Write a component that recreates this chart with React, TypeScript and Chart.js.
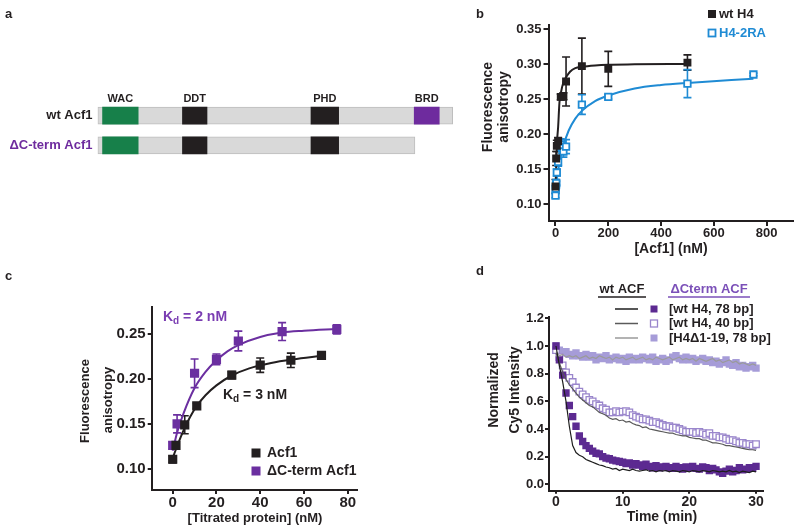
import React, { useEffect, useRef } from 'react';
import { Chart, registerables } from 'chart.js';
Chart.register(...registerables);

const FONT = "'Liberation Sans', Arial, Helvetica, sans-serif";
const INK = '#231f20';

// ---------------- Panel a : domain map ----------------
const aRows = ['wt Acf1', 'ΔC-term Acf1'];
const aRowColors = [INK, '#6e2b9e'];
const aLength = [1476, 1319];
const aDomainNames = ['WAC', 'DDT', 'PHD', 'BRD'];
const aDomainStart = [21, 353, 887, 1316];
const aDomainEnd = [169, 455, 1002, 1420];
const aDomainKept = [true, true, true, false];
const aDomainColors = ['#17804a', INK, INK, '#6e2b9e'];

// ---------------- Panel b ----------------
const bWtX = [0, 2.5, 5, 10, 20, 30, 40, 100, 200, 500];
const bWtY = [0.125, 0.165, 0.183, 0.19, 0.253, 0.254, 0.275, 0.297, 0.293, 0.302];
const bWtErr = [0.01, 0.01, 0.008, 0.005, 0.004, 0.005, 0.035, 0.04, 0.025, 0.011];
const bRaX = [0, 1, 2, 3, 5, 10, 20, 25, 30, 40, 100, 200, 500, 750];
const bRaY = [0.112, 0.122, 0.127, 0.13, 0.145, 0.16, 0.185, 0.18, 0.175, 0.182, 0.242, 0.253, 0.272, 0.285];
const bRaErr = [0.003, 0.004, 0.004, 0.003, 0.005, 0.006, 0.008, 0.008, 0.008, 0.01, 0.014, 0.003, 0.02, 0.002];
const bWtFitX = [0, 3, 6, 10, 15, 20, 30, 40, 55, 75, 100, 150, 200, 300, 500];
const bWtFitY = [0.12, 0.16, 0.19, 0.21, 0.245, 0.258, 0.274, 0.281, 0.289, 0.294, 0.296, 0.298, 0.299, 0.2995, 0.30];
const bRaFitX = [0, 5, 10, 20, 30, 50, 75, 100, 150, 200, 300, 400, 500, 750];
const bRaFitY = [0.118, 0.135, 0.148, 0.168, 0.183, 0.205, 0.222, 0.233, 0.247, 0.255, 0.265, 0.27, 0.273, 0.279];
const bXTicks = [0, 200, 400, 600, 800];
const bYTicks = [0.1, 0.15, 0.2, 0.25, 0.3, 0.35];

// ---------------- Panel c ----------------
const cAcfX = [0, 1.5, 5.5, 11, 27, 40, 54, 68];
const cAcfY = [0.1105, 0.126, 0.149, 0.17, 0.2045, 0.2155, 0.221, 0.2265];
const cAcfErr = [0.004, 0.004, 0.01, 0.003, 0.004, 0.008, 0.008, 0.002];
const cDcX = [0, 2, 10, 20, 30, 50, 75];
const cDcY = [0.126, 0.15, 0.2065, 0.222, 0.2425, 0.253, 0.2555];
const cDcErr = [0.004, 0.01, 0.016, 0.006, 0.011, 0.01, 0.005];
const cAcfFitX = [0, 2, 5, 8, 11, 15, 20, 27, 35, 45, 55, 68];
const cAcfFitY = [0.112, 0.125, 0.143, 0.158, 0.17, 0.182, 0.193, 0.204, 0.212, 0.218, 0.222, 0.226];
const cDcFitX = [0, 2, 5, 10, 15, 20, 25, 30, 40, 50, 60, 75];
const cDcFitY = [0.12, 0.14, 0.162, 0.19, 0.208, 0.221, 0.231, 0.238, 0.247, 0.252, 0.254, 0.256];
const cXTicks = [0, 20, 40, 60, 80];
const cYTicks = [0.1, 0.15, 0.2, 0.25];

// ---------------- Panel d ----------------
const dTime = [0, 0.5, 1, 1.5, 2, 2.5, 3, 3.5, 4, 4.5, 5, 5.5, 6, 6.5, 7, 7.5, 8, 8.5, 9, 9.5, 10, 10.5, 11, 11.5, 12, 12.5, 13, 13.5, 14, 14.5, 15, 15.5, 16, 16.5, 17, 17.5, 18, 18.5, 19, 19.5, 20, 20.5, 21, 21.5, 22, 22.5, 23, 23.5, 24, 24.5, 25, 25.5, 26, 26.5, 27, 27.5, 28, 28.5, 29, 29.5, 30];
const dWt78 = [1.0, 0.86, 0.74, 0.6, 0.42, 0.28, 0.23, 0.21, 0.2, 0.18, 0.17, 0.16, 0.15, 0.14, 0.135, 0.125, 0.12, 0.11, 0.115, 0.1, 0.11, 0.105, 0.1, 0.11, 0.1, 0.095, 0.1, 0.105, 0.095, 0.1, 0.09, 0.1, 0.095, 0.1, 0.09, 0.1, 0.095, 0.09, 0.1, 0.095, 0.09, 0.1, 0.095, 0.09, 0.1, 0.095, 0.09, 0.1, 0.095, 0.09, 0.095, 0.09, 0.1, 0.09, 0.095, 0.085, 0.095, 0.09, 0.085, 0.095, 0.09];
const dWt40 = [0.95, 0.88, 0.81, 0.76, 0.72, 0.69, 0.66, 0.63, 0.61, 0.59, 0.57, 0.56, 0.54, 0.52, 0.51, 0.5, 0.48, 0.47, 0.475, 0.46, 0.465, 0.45, 0.455, 0.44, 0.43, 0.425, 0.41, 0.415, 0.4, 0.395, 0.39, 0.385, 0.38, 0.375, 0.37, 0.37, 0.36, 0.355, 0.35, 0.35, 0.34, 0.335, 0.33, 0.33, 0.32, 0.32, 0.31, 0.3, 0.3, 0.295, 0.29, 0.28, 0.28, 0.275, 0.27, 0.265, 0.26, 0.255, 0.25, 0.25, 0.245];
const dWtDel = [0.96, 0.93, 0.94, 0.92, 0.93, 0.92, 0.93, 0.91, 0.92, 0.93, 0.91, 0.92, 0.91, 0.93, 0.92, 0.91, 0.92, 0.9, 0.92, 0.91, 0.92, 0.9, 0.91, 0.92, 0.9, 0.91, 0.92, 0.9, 0.91, 0.9, 0.92, 0.91, 0.9, 0.91, 0.92, 0.9, 0.91, 0.92, 0.9, 0.91, 0.9, 0.91, 0.89, 0.91, 0.9, 0.89, 0.9, 0.91, 0.89, 0.9, 0.88, 0.89, 0.9, 0.88, 0.89, 0.87, 0.88, 0.87, 0.86, 0.87, 0.86];
const dDc78 = [1.0, 0.9, 0.79, 0.66, 0.57, 0.49, 0.42, 0.35, 0.31, 0.28, 0.26, 0.24, 0.225, 0.22, 0.2, 0.19, 0.185, 0.175, 0.17, 0.165, 0.16, 0.15, 0.155, 0.14, 0.15, 0.14, 0.13, 0.145, 0.13, 0.12, 0.135, 0.12, 0.125, 0.13, 0.12, 0.115, 0.13, 0.12, 0.11, 0.125, 0.12, 0.13, 0.115, 0.11, 0.125, 0.12, 0.1, 0.115, 0.105, 0.09, 0.08, 0.095, 0.11, 0.09, 0.1, 0.12, 0.105, 0.11, 0.12, 0.115, 0.13];
const dDc40 = [0.97, 0.92, 0.86, 0.81, 0.77, 0.74, 0.7, 0.67, 0.65, 0.63, 0.61, 0.6, 0.58, 0.57, 0.55, 0.54, 0.52, 0.52, 0.53, 0.52, 0.525, 0.53, 0.52, 0.5, 0.49, 0.48, 0.47, 0.47, 0.46, 0.45, 0.45, 0.44, 0.43, 0.42, 0.42, 0.41, 0.41, 0.4, 0.39, 0.38, 0.38, 0.38, 0.37, 0.38, 0.37, 0.36, 0.37, 0.35, 0.35, 0.34, 0.34, 0.33, 0.32, 0.32, 0.31, 0.3, 0.3, 0.29, 0.29, 0.28, 0.29];
const dDcDel = [1.0, 0.97, 0.95, 0.96, 0.94, 0.93, 0.95, 0.93, 0.92, 0.94, 0.92, 0.93, 0.9, 0.92, 0.91, 0.93, 0.9, 0.91, 0.92, 0.9, 0.91, 0.89, 0.92, 0.9, 0.91, 0.9, 0.92, 0.91, 0.9, 0.92, 0.89, 0.9, 0.91, 0.89, 0.9, 0.92, 0.93, 0.91, 0.9, 0.92, 0.9, 0.91, 0.89, 0.9, 0.91, 0.89, 0.9, 0.88, 0.89, 0.87, 0.88, 0.9, 0.87, 0.86, 0.88, 0.85, 0.86, 0.84, 0.85, 0.86, 0.84];
const dXTicks = [0, 10, 20, 30];
const dYTicks = [0, 0.2, 0.4, 0.6, 0.8, 1.0, 1.2];

// ---------------- helpers ----------------
const pts = (xs: number[], ys: number[]) => xs.map((x, i) => ({ x, y: ys[i] }));
const bold = (size: number) => `bold ${size}px ${FONT}`;

type Item =
  | { kind: 'text'; x: number; y: number; text: string; font: string; color: string; align?: CanvasTextAlign; rot?: boolean }
  | { kind: 'runs'; x: number; y: number; runs: { text: string; sub?: boolean }[]; font: string; subFont: string; color: string }
  | { kind: 'rect'; x: number; y: number; size: number; fill?: string; stroke?: string; lw?: number }
  | { kind: 'line'; x1: number; y1: number; x2: number; y2: number; color: string; lw: number };

function overlay(ox: number, oy: number, items: Item[]) {
  return {
    id: 'overlay',
    afterDraw(chart: any) {
      const ctx: CanvasRenderingContext2D = chart.ctx;
      ctx.save();
      ctx.textBaseline = 'middle';
      for (const it of items) {
        if (it.kind === 'text') {
          ctx.font = it.font;
          ctx.fillStyle = it.color;
          ctx.textAlign = it.align ?? 'left';
          if (it.rot) {
            ctx.save();
            ctx.translate(it.x - ox, it.y - oy);
            ctx.rotate(-Math.PI / 2);
            ctx.fillText(it.text, 0, 0);
            ctx.restore();
          } else ctx.fillText(it.text, it.x - ox, it.y - oy);
        } else if (it.kind === 'runs') {
          ctx.textAlign = 'left';
          ctx.fillStyle = it.color;
          let x = it.x - ox;
          for (const r of it.runs) {
            ctx.font = r.sub ? it.subFont : it.font;
            ctx.fillText(r.text, x, it.y - oy + (r.sub ? 4 : 0));
            x += ctx.measureText(r.text).width;
          }
        } else if (it.kind === 'rect') {
          const h = it.size / 2;
          if (it.fill) {
            ctx.fillStyle = it.fill;
            ctx.fillRect(it.x - ox - h, it.y - oy - h, it.size, it.size);
          }
          if (it.stroke) {
            ctx.strokeStyle = it.stroke;
            ctx.lineWidth = it.lw ?? 1.5;
            ctx.strokeRect(it.x - ox - h, it.y - oy - h, it.size, it.size);
          }
        } else {
          ctx.strokeStyle = it.color;
          ctx.lineWidth = it.lw;
          ctx.beginPath();
          ctx.moveTo(it.x1 - ox, it.y1 - oy);
          ctx.lineTo(it.x2 - ox, it.y2 - oy);
          ctx.stroke();
        }
      }
      ctx.restore();
    },
  };
}

const errorBars = {
  id: 'errorBars',
  beforeDatasetsDraw(chart: any) {
    const ctx: CanvasRenderingContext2D = chart.ctx;
    const ys = chart.scales.y;
    chart.data.datasets.forEach((ds: any, i: number) => {
      if (!ds.errs) return;
      const meta = chart.getDatasetMeta(i);
      ctx.save();
      ctx.strokeStyle = ds.errColor;
      ctx.lineWidth = 1.6;
      meta.data.forEach((el: any, j: number) => {
        const v = ds.data[j].y;
        const e = ds.errs[j];
        if (!e) return;
        const x = el.x;
        const yt = ys.getPixelForValue(v + e);
        const yb = ys.getPixelForValue(v - e);
        ctx.beginPath();
        ctx.moveTo(x, yt);
        ctx.lineTo(x, yb);
        ctx.moveTo(x - 4, yt);
        ctx.lineTo(x + 4, yt);
        ctx.moveTo(x - 4, yb);
        ctx.lineTo(x + 4, yb);
        ctx.stroke();
      });
      ctx.restore();
    });
  },
};

function axis(min: number, max: number, ticks: number[], dec: number, size: number, tickLen: number, pad: number, fit: (s: any) => void) {
  return {
    type: 'linear' as const,
    min,
    max,
    afterBuildTicks: (s: any) => {
      s.ticks = ticks.map((v) => ({ value: v }));
    },
    afterFit: fit,
    ticks: {
      autoSkip: false,
      maxRotation: 0,
      minRotation: 0,
      padding: pad,
      color: INK,
      font: { family: FONT, weight: 'bold' as const, size },
      callback: (v: any) => Number(v).toFixed(dec),
    },
    grid: { drawOnChartArea: false, drawTicks: true, tickLength: tickLen, color: INK, lineWidth: 2 },
    border: { display: true, color: INK, width: 2 },
  };
}

const baseOpts = {
  responsive: false,
  animation: false as const,
  events: [] as any[],
  plugins: { legend: { display: false }, tooltip: { enabled: false } },
};

// ---------------- panel builders ----------------
function makeA(canvas: HTMLCanvasElement) {
  const datasets: any[] = aDomainNames.map((name, k) => ({
    label: name,
    data: aRows.map((_, r) => (r === 0 || aDomainKept[k] ? [aDomainStart[k], aDomainEnd[k]] : null)),
    backgroundColor: aDomainColors[k],
    borderWidth: 0,
    barThickness: 17,
    grouped: false,
    order: 0,
  }));
  datasets.push({
    label: 'backbone',
    data: aRows.map((_, r) => [1, aLength[r]]),
    backgroundColor: '#d9d9d9',
    borderColor: '#bdbdbd',
    borderWidth: 1,
    borderSkipped: false,
    barThickness: 17,
    grouped: false,
    order: 1,
  });
  const domainLabels = {
    id: 'domainLabels',
    afterDatasetsDraw(chart: any) {
      const ctx: CanvasRenderingContext2D = chart.ctx;
      ctx.save();
      ctx.font = bold(11);
      ctx.fillStyle = INK;
      ctx.textAlign = 'center';
      ctx.textBaseline = 'middle';
      chart.data.datasets.forEach((ds: any, i: number) => {
        if (ds.label === 'backbone') return;
        const el: any = chart.getDatasetMeta(i).data[0];
        ctx.fillText(ds.label, (el.x + el.base) / 2, el.y - el.height / 2 - 8);
      });
      ctx.restore();
    },
  };
  return new Chart(canvas, {
    type: 'bar',
    data: { labels: aRows, datasets },
    options: {
      ...baseOpts,
      indexAxis: 'y',
      layout: { padding: { left: 0, right: 11.5, top: 100.9, bottom: 19.9 } },
      scales: {
        x: { type: 'linear', min: 0, max: 1500, display: false },
        y: {
          type: 'category',
          afterFit: (s: any) => {
            s.width = 97.5;
          },
          grid: { display: false, drawTicks: false },
          border: { display: false },
          ticks: {
            padding: 5,
            font: { family: FONT, weight: 'bold', size: 13 },
            color: (c: any) => aRowColors[c.index] ?? INK,
          },
        },
      },
    } as any,
    plugins: [domainLabels, overlay(0, 0, [{ kind: 'text', x: 5, y: 14, text: 'a', font: bold(13), color: INK }])],
  });
}

function makeB(canvas: HTMLCanvasElement) {
  const BLUE = '#1f8bd4';
  const ox = 470, oy = 0;
  return new Chart(canvas, {
    type: 'scatter',
    data: {
      datasets: [
        { label: 'wt H4', data: pts(bWtX, bWtY), errs: bWtErr, errColor: INK, pointStyle: 'rect', pointRadius: 5.6, backgroundColor: INK, borderColor: INK, borderWidth: 0 },
        { label: 'H4-2RA', data: pts(bRaX, bRaY), errs: bRaErr, errColor: BLUE, pointStyle: 'rect', pointRadius: 4.6, backgroundColor: '#fff', borderColor: BLUE, borderWidth: 1.8 },
        { label: 'wt fit', data: pts(bWtFitX, bWtFitY), showLine: true, pointRadius: 0, borderColor: INK, borderWidth: 2, cubicInterpolationMode: 'monotone' },
        { label: '2RA fit', data: pts(bRaFitX, bRaFitY), showLine: true, pointRadius: 0, borderColor: BLUE, borderWidth: 2, cubicInterpolationMode: 'monotone' },
      ] as any,
    },
    options: {
      ...baseOpts,
      layout: { padding: { left: 0, right: 7, top: 25, bottom: 0 } },
      scales: {
        x: axis(-26.5, 900, bXTicks, 0, 13, 5, 0, (s) => { s.height = 44; }),
        y: axis(0.0757, 0.3557, bYTicks, 2, 13, 5, 2, (s) => { s.width = 78.5; }),
      },
    } as any,
    plugins: [
      errorBars,
      overlay(ox, oy, [
        { kind: 'text', x: 476, y: 14, text: 'b', font: bold(13), color: INK },
        { kind: 'rect', x: 712, y: 14, size: 8, fill: INK },
        { kind: 'text', x: 719, y: 14, text: 'wt H4', font: bold(13), color: INK },
        { kind: 'rect', x: 712, y: 33, size: 7, fill: '#fff', stroke: BLUE, lw: 1.8 },
        { kind: 'text', x: 719, y: 33, text: 'H4-2RA', font: bold(13), color: BLUE },
        { kind: 'text', x: 488, y: 107, text: 'Fluorescence', font: bold(14), color: INK, align: 'center', rot: true },
        { kind: 'text', x: 504, y: 107, text: 'anisotropy', font: bold(14), color: INK, align: 'center', rot: true },
        { kind: 'text', x: 671, y: 249, text: '[Acf1] (nM)', font: bold(14), color: INK, align: 'center' },
      ]),
    ],
  });
}

function makeC(canvas: HTMLCanvasElement) {
  const PURPLE = '#6b2fa0';
  const ox = 0, oy = 265;
  return new Chart(canvas, {
    type: 'scatter',
    data: {
      datasets: [
        { label: 'Acf1', data: pts(cAcfX, cAcfY), errs: cAcfErr, errColor: INK, pointStyle: 'rect', pointRadius: 6.5, backgroundColor: INK, borderWidth: 0 },
        { label: 'ΔC-term Acf1', data: pts(cDcX, cDcY), errs: cDcErr, errColor: PURPLE, pointStyle: 'rect', pointRadius: 6.5, backgroundColor: PURPLE, borderWidth: 0 },
        { label: 'Acf1 fit', data: pts(cAcfFitX, cAcfFitY), showLine: true, pointRadius: 0, borderColor: INK, borderWidth: 2, cubicInterpolationMode: 'monotone' },
        { label: 'ΔC fit', data: pts(cDcFitX, cDcFitY), showLine: true, pointRadius: 0, borderColor: PURPLE, borderWidth: 2, cubicInterpolationMode: 'monotone' },
      ] as any,
    },
    options: {
      ...baseOpts,
      layout: { padding: { left: 0, right: 43.3, top: 41.7, bottom: 0 } },
      scales: {
        x: axis(-9.6, 84.1, cXTicks, 0, 15, 4, 0, (s) => { s.height = 41; }),
        y: axis(0.0762, 0.2808, cYTicks, 2, 15, 4, 2, (s) => { s.width = 151.7; }),
      },
    } as any,
    plugins: [
      errorBars,
      overlay(ox, oy, [
        { kind: 'text', x: 5, y: 276, text: 'c', font: bold(13), color: INK },
        { kind: 'runs', x: 163, y: 317, runs: [{ text: 'K' }, { text: 'd', sub: true }, { text: ' = 2 nM' }], font: bold(14), subFont: bold(10), color: '#7a3db2' },
        { kind: 'runs', x: 223, y: 395, runs: [{ text: 'K' }, { text: 'd', sub: true }, { text: ' = 3 nM' }], font: bold(14), subFont: bold(10), color: INK },
        { kind: 'rect', x: 256, y: 453, size: 9, fill: INK },
        { kind: 'text', x: 267, y: 453, text: 'Acf1', font: bold(14), color: INK },
        { kind: 'rect', x: 256, y: 471, size: 9, fill: PURPLE },
        { kind: 'text', x: 267, y: 471, text: 'ΔC-term Acf1', font: bold(14), color: INK },
        { kind: 'text', x: 85, y: 401, text: 'Fluorescence', font: bold(13), color: INK, align: 'center', rot: true },
        { kind: 'text', x: 108, y: 400, text: 'anisotropy', font: bold(13), color: INK, align: 'center', rot: true },
        { kind: 'text', x: 255, y: 518, text: '[Titrated protein] (nM)', font: bold(13), color: INK, align: 'center' },
      ]),
    ],
  });
}

function makeD(canvas: HTMLCanvasElement) {
  const P1 = '#5c2a91', P2 = '#9a86cc', P3 = '#a69cd8';
  const L1 = '#1e1e1e', L2 = '#5a5a5a', L3 = '#9a9a9a';
  const ox = 400, oy = 265;
  const line = (label: string, ys: number[], color: string) => ({ label, data: pts(dTime, ys), showLine: true, pointRadius: 0, borderColor: color, borderWidth: 1.2, tension: 0 });
  return new Chart(canvas, {
    type: 'scatter',
    data: {
      datasets: [
        line('wt ACF 78', dWt78, L1),
        line('wt ACF 40', dWt40, L2),
        line('wt ACF del', dWtDel, L3),
        { label: 'dC 78', data: pts(dTime, dDc78), pointStyle: 'rect', pointRadius: 5.2, backgroundColor: P1, borderWidth: 0 },
        { label: 'dC 40', data: pts(dTime, dDc40), pointStyle: 'rect', pointRadius: 4.6, backgroundColor: '#fff', borderColor: P2, borderWidth: 1.3 },
        { label: 'dC del', data: pts(dTime, dDcDel), pointStyle: 'rect', pointRadius: 5.2, backgroundColor: P3, borderWidth: 0 },
      ] as any,
    },
    options: {
      ...baseOpts,
      layout: { padding: { left: 0, right: 37.3, top: 51.7, bottom: 0 } },
      scales: {
        x: axis(-1.05, 31.0, dXTicks, 0, 14, 3, 0, (s) => { s.height = 40.3; }),
        y: axis(-0.046, 1.212, dYTicks, 1, 13, 4, 1, (s) => { s.width = 149; }),
      },
    } as any,
    plugins: [
      overlay(ox, oy, [
        { kind: 'text', x: 476, y: 271, text: 'd', font: bold(13), color: INK },
        { kind: 'text', x: 622, y: 289, text: 'wt ACF', font: bold(13), color: INK, align: 'center' },
        { kind: 'line', x1: 598, y1: 297, x2: 646, y2: 297, color: INK, lw: 1.5 },
        { kind: 'text', x: 709, y: 289, text: 'ΔCterm ACF', font: bold(13), color: '#7b50b8', align: 'center' },
        { kind: 'line', x1: 668, y1: 297, x2: 750, y2: 297, color: '#7b50b8', lw: 1.5 },
        { kind: 'line', x1: 615, y1: 309, x2: 638, y2: 309, color: L1, lw: 1.5 },
        { kind: 'line', x1: 615, y1: 323.5, x2: 638, y2: 323.5, color: L2, lw: 1.5 },
        { kind: 'line', x1: 615, y1: 338, x2: 638, y2: 338, color: L3, lw: 1.5 },
        { kind: 'rect', x: 654, y: 309, size: 7, fill: P1 },
        { kind: 'rect', x: 654, y: 323.5, size: 7, fill: '#fff', stroke: P2, lw: 1.3 },
        { kind: 'rect', x: 654, y: 338, size: 7, fill: P3 },
        { kind: 'text', x: 669, y: 309, text: '[wt H4, 78 bp]', font: bold(13), color: INK },
        { kind: 'text', x: 669, y: 323.5, text: '[wt H4, 40 bp]', font: bold(13), color: INK },
        { kind: 'text', x: 669, y: 338, text: '[H4Δ1-19, 78 bp]', font: bold(13), color: INK },
        { kind: 'text', x: 494, y: 390, text: 'Normalized', font: bold(14), color: INK, align: 'center', rot: true },
        { kind: 'text', x: 515, y: 390, text: 'Cy5 Intensity', font: bold(14), color: INK, align: 'center', rot: true },
        { kind: 'text', x: 662, y: 517, text: 'Time (min)', font: bold(14), color: INK, align: 'center' },
      ]),
    ],
  });
}

export default function App() {
  const aRef = useRef<HTMLCanvasElement>(null);
  const bRef = useRef<HTMLCanvasElement>(null);
  const cRef = useRef<HTMLCanvasElement>(null);
  const dRef = useRef<HTMLCanvasElement>(null);
  useEffect(() => {
    const charts = [makeA(aRef.current!), makeB(bRef.current!), makeC(cRef.current!), makeD(dRef.current!)];
    return () => charts.forEach((c) => c.destroy());
  }, []);
  const pos = (left: number, top: number, width: number, height: number): React.CSSProperties => ({
    position: 'absolute', left, top, width, height,
  });
  return (
    <div style={{ position: 'fixed', left: 0, top: 0, width: 800, height: 531, background: '#fff', overflow: 'hidden' }}>
      <canvas ref={aRef} width={470} height={180} style={pos(0, 0, 470, 180)} />
      <canvas ref={bRef} width={330} height={265} style={pos(470, 0, 330, 265)} />
      <canvas ref={cRef} width={400} height={266} style={pos(0, 265, 400, 266)} />
      <canvas ref={dRef} width={400} height={266} style={pos(400, 265, 400, 266)} />
    </div>
  );
}
